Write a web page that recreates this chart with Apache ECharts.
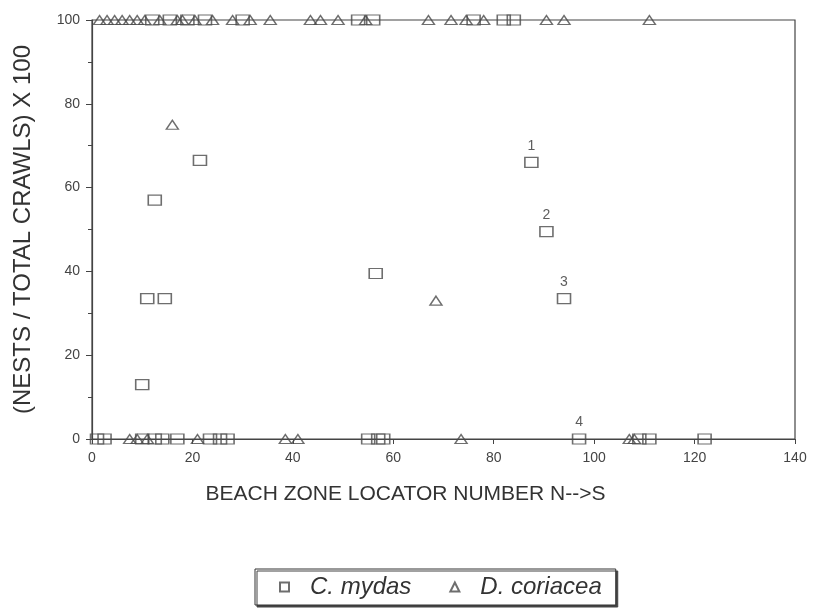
<!DOCTYPE html>
<html>
<head>
<meta charset="utf-8">
<script src="https://cdn.jsdelivr.net/npm/echarts@6/dist/echarts.min.js"></script>
<style>
  html, body { margin: 0; padding: 0; background: #fff; }
  #chart { width: 818px; height: 613px; }
</style>
</head>
<body>
<div id="chart"></div>
<script>
// C. mydas (squares)
var mydasPts = [
  // top row
  [12, 100], [15.5, 100], [19, 100], [22.5, 100], [30, 100], [53, 100], [56, 100],
  [76, 100], [82, 100], [84, 100],
  // middle
  [10, 13], [11, 33.5], [14.5, 33.5], [12.5, 57], [21.5, 66.5], [56.5, 39.5],
  // bottom row
  [1, 0], [2.5, 0], [10, 0], [12.5, 0], [14, 0], [17, 0], [23.5, 0], [25.5, 0], [27, 0],
  [55, 0], [57, 0], [58, 0], [109, 0], [111, 0], [122, 0]
];
// numbered C. mydas points
var mydasLabeled = [[87.5, 66, '1'], [90.5, 49.5, '2'], [94, 33.5, '3'], [97, 0, '4']];

// D. coriacea (triangles)
var coriaceaPts = [
  [1.5, 100], [3, 100], [4.5, 100], [6, 100], [7.5, 100], [9, 100], [10.5, 100],
  [13.5, 100], [17, 100], [18, 100], [20.5, 100], [24, 100], [28, 100], [31.5, 100],
  [35.5, 100], [43.5, 100], [45.5, 100], [49, 100], [54.5, 100], [67, 100], [71.5, 100],
  [74.5, 100], [78, 100], [90.5, 100], [94, 100], [111, 100],
  [16, 75], [68.5, 33],
  [7.5, 0], [9, 0], [11, 0], [21, 0], [38.5, 0], [41, 0], [73.5, 0], [107, 0], [108, 0]
];

var xTicks = [0, 140, 20];
var yTicks = [0, 100, 20];

var chart = echarts.init(document.getElementById('chart'));
var font = 'Liberation Sans';
var ink = '#4a4a4a';

var mydasData = mydasPts.map(function (p) { return p; });
mydasLabeled.forEach(function (p) {
  mydasData.push({
    value: [p[0], p[1]],
    label: { show: true, formatter: p[2], position: 'top', distance: 4,
      color: '#333', fontSize: 14, fontFamily: font }
  });
});

chart.setOption({
  animation: false,
  backgroundColor: '#fff',
  grid: {
    left: 92, right: 23, top: 20, bottom: 174,
    show: true, borderColor: '#444', borderWidth: 1.2, backgroundColor: 'transparent'
  },
  legend: {
    bottom: 8, left: 255,
    data: ['C. mydas', 'D. coriacea'],
    backgroundColor: '#fff',
    borderColor: '#333', borderWidth: 1,
    padding: [6, 14, 6, 24],
    itemGap: 38,
    itemWidth: 9, itemHeight: 9,
    shadowColor: '#444', shadowBlur: 0, shadowOffsetX: 2, shadowOffsetY: 2,
    textStyle: { fontSize: 24, fontStyle: 'italic', fontFamily: font, color: '#333', padding: [0, 0, 0, 16] }
  },
  xAxis: {
    type: 'value', min: xTicks[0], max: xTicks[1], interval: xTicks[2],
    name: 'BEACH ZONE LOCATOR NUMBER N-->S', nameLocation: 'middle', nameGap: 45,
    nameTextStyle: { fontSize: 21, fontFamily: font, color: '#333', padding: [0, 76, 0, 0] },
    axisLine: { show: true, lineStyle: { color: '#444', width: 1.2 } },
    axisTick: { show: true, length: 5, lineStyle: { color: '#444' } },
    axisLabel: { fontSize: 14, fontFamily: font, color: '#444', margin: 12 },
    splitLine: { show: false }
  },
  yAxis: {
    type: 'value', min: yTicks[0], max: yTicks[1], interval: yTicks[2],
    name: '(NESTS / TOTAL CRAWLS) X 100', nameLocation: 'middle', nameGap: 57,
    nameTextStyle: { fontSize: 24, fontFamily: font, color: '#333' },
    axisLine: { show: true, lineStyle: { color: '#444', width: 1.2 } },
    axisTick: { show: true, length: 6, lineStyle: { color: '#444' } },
    minorTick: { show: true, splitNumber: 2, length: 4, lineStyle: { color: '#444' } },
    axisLabel: { fontSize: 14, fontFamily: font, color: '#444', margin: 12 },
    splitLine: { show: false }
  },
  series: [
    {
      name: 'C. mydas', type: 'scatter', symbol: 'rect', symbolSize: [13, 10],
      itemStyle: { color: 'rgba(0,0,0,0)', borderColor: ink, borderWidth: 1.4 },
      data: mydasData
    },
    {
      name: 'D. coriacea', type: 'scatter', symbol: 'triangle', symbolSize: [12, 9],
      itemStyle: { color: 'rgba(0,0,0,0)', borderColor: ink, borderWidth: 1.4 },
      data: coriaceaPts
    }
  ]
});
</script>
</body>
</html>
